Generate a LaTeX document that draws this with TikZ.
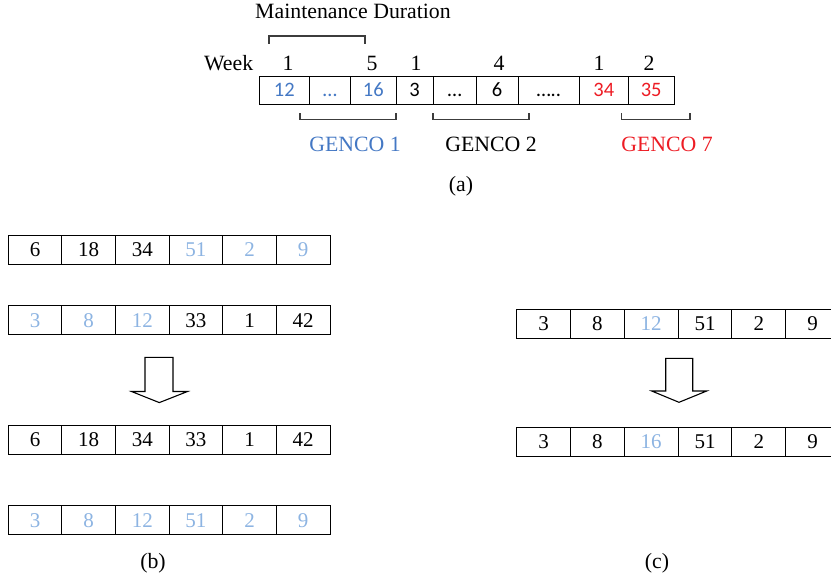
\documentclass[tikz,border=0pt]{standalone}
\usepackage{fontspec}
\setmainfont{Liberation Serif}
\newfontfamily\cellsans{Carlito}
\definecolor{gblue}{RGB}{68,120,196}
\definecolor{gred}{RGB}{237,28,36}
\definecolor{lblue}{RGB}{141,180,226}
\definecolor{brk}{RGB}{60,60,60}

\begin{document}
\begin{tikzpicture}[x=1pt,y=-1pt,
  serif/.style={font=\fontsize{21.8}{26}\selectfont, inner sep=0pt},
  acell/.style={draw=black, line width=1pt, inner sep=0pt, minimum height=28pt,
    text height=13pt, text depth=0pt,
    font=\cellsans\fontsize{20.5}{24}\selectfont},
  gcell/.style={draw=black, line width=1pt, inner sep=0pt, minimum width=#1,
    minimum height=29pt, text height=14.2pt, text depth=0pt,
    font=\fontsize{21}{25}\selectfont},
  bracket/.style={draw=brk, line width=1.3pt},
  bigarrow/.style={draw=black, line width=1.1pt, fill=white, line join=miter}]
\useasboundingbox (0,0) rectangle (831,579);
\clip (0,0) rectangle (831,579);

% ---- (a) encoding of maintenance start weeks ----
\node[serif, anchor=base] (mdur) at (353,18.3) {Maintenance Duration};
\draw[bracket] (269,43.7) -- (269,36) -- (365,36) -- (365,43.7);

\node[serif, anchor=base] (week) at (228.7,70) {Week};
\node[serif, anchor=base] (w1) at (288,70) {1};
\node[serif, anchor=base] (w2) at (372,70) {5};
\node[serif, anchor=base] (w3) at (416,70) {1};
\node[serif, anchor=base] (w4) at (499,70) {4};
\node[serif, anchor=base] (w5) at (599,70) {1};
\node[serif, anchor=base] (w6) at (649,70) {2};

\node[acell, minimum width=50pt,   text=gblue] (a1) at (284.3,90)  {12};
\node[acell, minimum width=41.4pt, text=gblue] (a2) at (330,90)    {…};
\node[acell, minimum width=45.3pt, text=gblue] (a3) at (373.35,90) {16};
\node[acell, minimum width=37.3pt] (a4) at (414.65,90) {3};
\node[acell, minimum width=42.7pt] (a5) at (454.65,90) {…};
\node[acell, minimum width=42.3pt] (a6) at (497.15,90) {6};
\node[acell, minimum width=61pt]   (a7) at (548.8,90)  {…..};
\node[acell, minimum width=49pt,   text=gred] (a8) at (603.8,90)  {34};
\node[acell, minimum width=45.7pt, text=gred] (a9) at (651.15,90) {35};

\draw[bracket] (300,113) -- (300,119.5) -- (396,119.5) -- (396,113);
\draw[bracket] (433,113) -- (433,119.5) -- (529,119.5) -- (529,113);
\draw[bracket] (621.7,113) -- (621.7,119.5) -- (690,119.5) -- (690,113);

\node[serif, anchor=base, text=gblue] (g1) at (355,151) {GENCO 1};
\node[serif, anchor=base] (g2) at (491,151) {GENCO 2};
\node[serif, anchor=base, text=gred] (g7) at (667,151) {GENCO 7};
\node[serif, anchor=base] (capa) at (461,191) {(a)};

% ---- (b) crossover ----
\foreach \v/\c [count=\i from 0] in {6/black,18/black,34/black,51/lblue,2/lblue,9/lblue}
  \node[gcell=53.62pt, text=\c] (p1-\i) at ({8.3+53.62*(\i+0.5)},249.7) {\v};
\foreach \v/\c [count=\i from 0] in {3/lblue,8/lblue,12/lblue,33/black,1/black,42/black}
  \node[gcell=53.62pt, text=\c] (p2-\i) at ({8.3+53.62*(\i+0.5)},320.2) {\v};

\draw[bigarrow] (145,357.3) -- (173,357.3) -- (173,391.5) -- (187.5,391.5)
  -- (159.3,402.6) -- (131.5,391.5) -- (145,391.5) -- cycle;

\foreach \v/\c [count=\i from 0] in {6/black,18/black,34/black,33/black,1/black,42/black}
  \node[gcell=53.62pt, text=\c] (c1-\i) at ({8.3+53.62*(\i+0.5)},439.5) {\v};
\foreach \v/\c [count=\i from 0] in {3/lblue,8/lblue,12/lblue,51/lblue,2/lblue,9/lblue}
  \node[gcell=53.62pt, text=\c] (c2-\i) at ({8.3+53.62*(\i+0.5)},520.3) {\v};

\node[serif, anchor=base] (capb) at (153,568) {(b)};

% ---- (c) mutation ----
\foreach \v/\c [count=\i from 0] in {3/black,8/black,12/lblue,51/black,2/black,9/black}
  \node[gcell=53.8pt, text=\c] (m1-\i) at ({516.7+53.8*(\i+0.5)},323.8) {\v};

\draw[bigarrow] (665.7,358.3) -- (692.7,358.3) -- (692.7,391) -- (706.7,391)
  -- (679,402.3) -- (651.7,391) -- (665.7,391) -- cycle;

\foreach \v/\c [count=\i from 0] in {3/black,8/black,16/lblue,51/black,2/black,9/black}
  \node[gcell=53.8pt, text=\c] (m2-\i) at ({516.7+53.8*(\i+0.5)},441.7) {\v};

\node[serif, anchor=base] (capc) at (657,568) {(c)};
\end{tikzpicture}
\end{document}
